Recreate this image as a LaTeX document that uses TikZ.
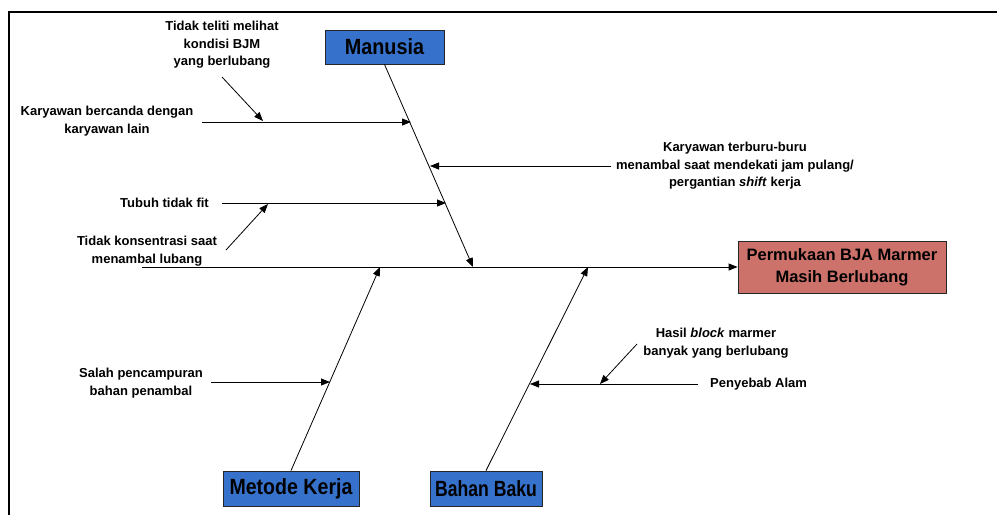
\documentclass[tikz,border=0pt]{standalone}
\usepackage{fontspec}
\setmainfont{Liberation Sans}
\usetikzlibrary{arrows.meta}
\definecolor{catblue}{RGB}{54,114,204}
\definecolor{effectred}{RGB}{205,113,107}
% condensed label for the category boxes
\newcommand{\catlabel}[2]{\scalebox{#1}[1]{#2}}
\begin{document}
\begin{tikzpicture}[x=1pt,y=-1pt,
  arr/.style={-{Triangle[length=9pt,width=7pt]}, line width=0.8pt},
  catbox/.style={draw=black!85, line width=0.8pt, fill=catblue, inner sep=0pt,
    font=\fontsize{22}{26}\selectfont\bfseries},
  effbox/.style={draw=black!85, line width=0.8pt, fill=effectred, inner sep=0pt,
    align=center, font=\fontsize{16.5}{22}\selectfont\bfseries},
  cause/.style={align=center, inner sep=0pt, font=\fontsize{13}{17.5}\selectfont\bfseries}]
\useasboundingbox (0,0) rectangle (997,515);
% frame
\draw[line width=2.3pt] (997,12) -- (9,12) -- (9,515);

% effect and categories
\node[effbox, minimum width=208pt, minimum height=52pt] (eff) at (842,267)
  {Permukaan BJA Marmer\\Masih Berlubang};
\node[catbox, minimum width=119pt, minimum height=34pt] (man) at (384.5,47) {\catlabel{0.9}{Manusia}};
\node[catbox, minimum width=136pt, minimum height=35pt] (met) at (291,488.5) {\catlabel{0.89}{Metode Kerja}};
\node[catbox, minimum width=112pt, minimum height=35pt] (bah) at (486,488.5) {\catlabel{0.8}{Bahan Baku}};

% spine and main bones
\coordinate (spine0) at (142,267);
\coordinate (mhead) at (473,267);
\coordinate (khead) at (380,267);
\coordinate (bhead) at (588,267);
\draw[arr] (spine0) -- (eff.west);
\draw[arr] (man.south) -- (mhead);
\draw[arr] (met.north) -- (khead);
\draw[arr] (bah.north) -- (bhead);

% Manusia causes
\node[cause] (c1) at (107,121) {Karyawan bercanda dengan\\karyawan lain};
\coordinate (c1a) at (202,122);
\coordinate (c1b) at (411,122);
\draw[arr] (c1a) -- (c1b);

\node[cause] (c2) at (222,45) {Tidak teliti melihat\\kondisi BJM\\yang berlubang};
\coordinate (c2a) at (222,77);
\coordinate (c2b) at (263,121);
\draw[arr] (c2a) -- (c2b);

\node[cause, anchor=east] (c3) at (209,203) {Tubuh tidak fit};
\coordinate (c3a) at (222,203);
\coordinate (c3b) at (446,203);
\draw[arr] (c3a) -- (c3b);

\node[cause] (c4) at (147,251) {Tidak konsentrasi saat\\menambal lubang};
\coordinate (c4a) at (226,250);
\coordinate (c4b) at (268,204);
\draw[arr] (c4a) -- (c4b);

\node[cause] (c5) at (735,166) {Karyawan terburu-buru\\menambal saat mendekati jam pulang/\\pergantian \textit{shift} kerja};
\coordinate (c5a) at (611,166);
\coordinate (c5b) at (430,166);
\draw[arr] (c5a) -- (c5b);

% Metode Kerja cause
\node[cause] (c6) at (141,383) {Salah pencampuran\\bahan penambal};
\coordinate (c6a) at (211,382);
\coordinate (c6b) at (330,382);
\draw[arr] (c6a) -- (c6b);

% Bahan Baku causes
\node[cause] (c7) at (716,343) {Hasil \textit{block} marmer\\banyak yang berlubang};
\coordinate (c7a) at (637,344);
\coordinate (c7b) at (600,384);
\draw[arr] (c7a) -- (c7b);

\node[cause, anchor=west] (c8) at (710,384) {Penyebab Alam};
\coordinate (c8a) at (698,384);
\coordinate (c8b) at (530,384);
\draw[arr] (c8a) -- (c8b);
\end{tikzpicture}
\end{document}
